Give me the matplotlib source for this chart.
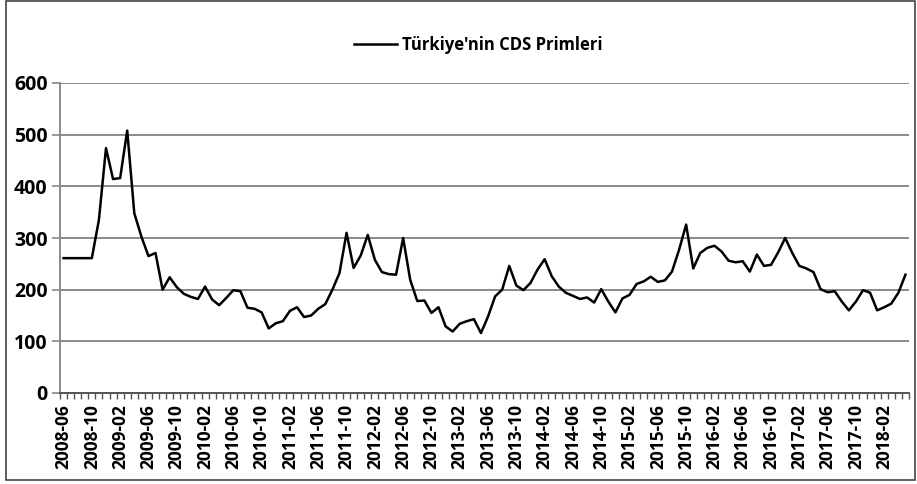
import numpy as np
import matplotlib.pyplot as plt
from matplotlib.patches import Rectangle

# Monthly CDS premiums, 2008-06 .. 2018-05
start_year = 2008
start_month = 6
cds = [261, 261, 261, 261, 261, 335, 474, 414, 416, 508,
       348, 303, 265, 271, 200, 224, 205, 192, 186, 182,
       206, 181, 170, 184, 199, 197, 165, 163, 156, 125,
       135, 139, 159, 166, 147, 150, 163, 172, 200, 232,
       310, 242, 266, 306, 258, 234, 230, 229, 300, 219,
       178, 179, 155, 166, 129, 119, 134, 139, 143, 116,
       148, 187, 200, 246, 208, 199, 213, 239, 259, 226,
       206, 194, 188, 182, 185, 175, 201, 177, 156, 183,
       190, 211, 216, 225, 215, 218, 235, 277, 326, 241,
       271, 281, 285, 274, 256, 253, 255, 235, 268, 246,
       248, 272, 300, 271, 246, 241, 234, 201, 195, 197,
       177, 160, 177, 199, 194, 160, 166, 173, 194, 229]
yticks = [0, 100, 200, 300, 400, 500, 600]
series_name = "Türkiye'nin CDS Primleri"

n = len(cds)
months = []
for i in range(n):
    y = start_year + (start_month - 1 + i) // 12
    m = (start_month - 1 + i) % 12 + 1
    months.append("%d-%02d" % (y, m))

plt.rcParams['font.family'] = ['Open Sans', 'DejaVu Sans']
plt.rcParams['font.weight'] = 'bold'

fig = plt.figure(figsize=(9.17, 4.84), dpi=100)
ax = fig.add_axes([60/917, 1 - 393/484, (909 - 60)/917, (393 - 83)/484])

x = np.arange(n)
line, = ax.plot(x, cds, color='black', lw=1.8, label=series_name, zorder=3)

ax.set_xlim(-0.5, n - 0.5)
ax.set_ylim(0, 600)
ax.set_yticks(yticks)
ax.set_yticklabels([str(v) for v in yticks], fontsize=14, fontweight='bold')
ax.yaxis.grid(True, color='#8a8a8a', lw=1.4)
ax.set_axisbelow(True)

# labels every 4 months at category centres, tick marks at category edges
ax.set_xticks(x[::4])
ax.set_xticklabels(months[::4], rotation=90, fontsize=12.5, fontweight='bold')
ax.set_xticks(np.arange(n + 1) - 0.5, minor=True)
ax.tick_params(axis='x', which='major', length=0, pad=8)
ax.tick_params(axis='x', which='minor', length=4, width=1, color='#555555', direction='out')
ax.tick_params(axis='y', length=6, width=1.2, color='#8a8a8a', pad=3)

for s in ['top', 'right']:
    ax.spines[s].set_visible(False)
ax.spines['left'].set_color('#8a8a8a')
ax.spines['left'].set_linewidth(1.4)
ax.spines['bottom'].set_color('#555555')
ax.spines['bottom'].set_linewidth(1.4)

fig.legend(handles=[line], loc='center', bbox_to_anchor=(478/917, 1 - 45/484),
           frameon=False, fontsize=12, handlelength=2.6, handletextpad=0.3)

# chart area border
fig.patches.append(Rectangle((6/917, 4/484), 909/917, 479/484, transform=fig.transFigure,
                             fill=False, edgecolor='#444444', lw=1.2))

plt.savefig("out.png", dpi=100)
